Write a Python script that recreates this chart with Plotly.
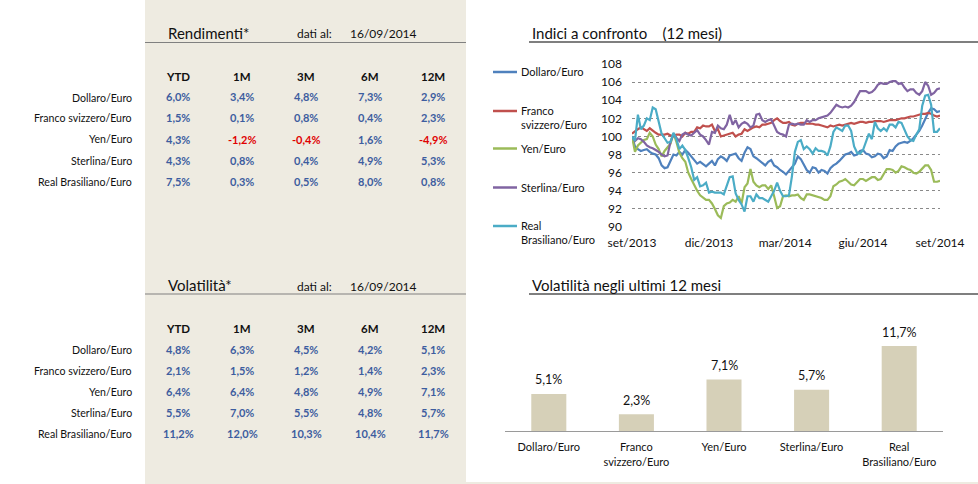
import pandas as pd
import plotly.graph_objects as go

W, H = 978, 484

# ---------------- data ----------------
pairs = ["Dollaro/Euro", "Franco svizzero/Euro", "Yen/Euro", "Sterlina/Euro", "Real Brasiliano/Euro"]
periods = ["YTD", "1M", "3M", "6M", "12M"]
data_date = "16/09/2014"

rend_dollaro = [6.0, 3.4, 4.8, 7.3, 2.9]
rend_franco = [1.5, 0.1, 0.8, 0.4, 2.3]
rend_yen = [4.3, -1.2, -0.4, 1.6, -4.9]
rend_sterlina = [4.3, 0.8, 0.4, 4.9, 5.3]
rend_real = [7.5, 0.3, 0.5, 8.0, 0.8]

vol_dollaro = [4.8, 6.3, 4.5, 4.2, 5.1]
vol_franco = [2.1, 1.5, 1.2, 1.4, 2.3]
vol_yen = [6.4, 6.4, 4.8, 4.9, 7.1]
vol_sterlina = [5.5, 7.0, 5.5, 4.8, 5.7]
vol_real = [11.2, 12.0, 10.3, 10.4, 11.7]

dates = pd.date_range("2013-09-16", "2014-09-15", periods=105)
idx_dollaro = [100.0, 98.9, 98.6, 98.4, 98.5, 98.6, 98.3, 98.1, 98.0, 97.6,
               96.8, 96.5, 96.6, 97.4, 98.0, 97.9, 98.3, 98.0, 98.5, 98.2,
               97.8, 97.4, 97.0, 97.2, 96.9, 96.7, 97.0, 97.3, 96.8, 97.5,
               97.8, 97.6, 97.3, 97.9, 98.0, 98.1, 97.6, 97.3, 98.2, 98.8,
               98.6, 97.8, 97.6, 97.3, 97.0, 96.8, 97.2, 97.4, 96.8, 96.6,
               96.3, 96.1, 95.8, 96.2, 96.6, 97.0, 97.8, 97.5, 96.9, 96.3,
               96.0, 96.6, 96.5, 96.0, 96.3, 96.2, 95.9, 96.5, 96.8, 97.0,
               97.3, 97.6, 98.0, 98.1, 98.3, 97.9, 98.0, 98.4, 98.5, 98.1,
               98.0, 97.7, 97.8, 98.1, 98.0, 97.6, 97.8, 98.5, 98.4, 98.9,
               99.2, 99.3, 99.4, 99.3, 99.5, 99.8, 100.2, 100.6, 101.2, 102.0,
               102.6, 103.1, 103.0, 102.7, 102.8]
idx_franco = [100.3, 100.6, 100.8, 101.0, 100.8, 100.6, 100.9, 100.6, 100.4, 100.2,
              100.2, 100.2, 100.3, 100.1, 100.1, 100.2, 100.2, 100.0, 100.4, 100.3,
              100.5, 100.5, 101.0, 100.9, 101.2, 101.1, 101.1, 101.3, 100.6, 100.8,
              100.0, 100.1, 100.2, 100.3, 100.4, 100.0, 100.2, 100.3, 100.8, 100.6,
              100.8, 101.0, 101.1, 101.0, 101.3, 101.3, 101.4, 101.5, 101.8, 102.0,
              101.7, 101.5, 101.5, 101.6, 101.3, 101.2, 101.4, 101.5, 101.5, 101.4,
              101.4, 101.4, 101.3, 101.3, 101.2, 101.1, 101.0, 101.2, 101.1, 101.2,
              101.3, 101.2, 101.3, 101.4, 101.5, 101.4, 101.5, 101.6, 101.6, 101.5,
              101.6, 101.6, 101.7, 101.7, 101.7, 101.6, 101.7, 101.8, 101.8, 101.8,
              101.9, 102.0, 102.0, 102.1, 102.2, 102.2, 102.3, 102.4, 102.5, 102.5,
              102.6, 102.5, 102.3, 102.2, 102.3]
idx_yen = [100.0, 98.3, 99.0, 99.3, 99.6, 99.7, 100.4, 100.0, 99.1, 98.6,
           97.8, 98.4, 98.8, 99.2, 100.3, 99.4, 98.2, 97.6, 97.2, 96.0,
           95.3, 94.6, 94.0, 93.5, 93.2, 93.0, 93.0, 92.6, 92.0, 91.3,
           91.0, 92.3, 92.6, 92.7, 93.0, 92.8, 93.4, 92.6, 94.4, 94.8,
           96.4, 95.0, 94.6, 94.4, 94.6, 94.6, 94.2, 94.6, 93.4, 92.1,
           92.3, 93.4, 93.5, 93.4, 93.5, 93.5, 93.6, 93.2, 93.0, 93.6,
           93.6, 93.5, 93.4, 93.3, 93.2, 93.0, 93.0, 93.4, 94.5, 94.7,
           95.0, 95.1, 95.3, 95.0, 94.7, 94.6, 95.0, 95.3, 95.3, 95.1,
           95.3, 95.5, 95.5, 95.2, 95.3, 95.8, 96.4, 96.4, 96.3, 96.0,
           96.2, 96.7, 96.6, 96.4, 96.3, 96.0, 95.9, 96.1, 96.4, 96.8,
           96.8, 96.3, 95.0, 95.0, 95.1]
idx_sterlina = [100.0, 99.5, 99.8, 99.7, 99.4, 99.0, 98.8, 98.7, 98.5, 98.3,
                98.0, 97.8, 97.9, 99.4, 100.2, 99.8, 99.5, 100.2, 100.4, 100.2,
                100.1, 100.4, 100.7, 100.2, 100.0, 99.6, 99.1, 100.5, 100.4, 101.2,
                100.9, 100.8, 101.3, 102.4, 101.3, 101.8, 101.0, 101.4, 101.6, 101.4,
                101.0, 101.2, 102.4, 102.5, 101.8, 101.6, 101.8, 101.9, 101.2, 100.5,
                100.3, 100.2, 100.0, 101.3, 101.4, 101.3, 101.4, 101.3, 101.3, 101.8,
                101.6, 101.8, 101.8, 102.0, 102.1, 102.2, 102.3, 102.6, 103.0, 103.5,
                103.3, 103.2, 103.3, 103.2, 103.4, 103.8, 104.4, 105.0, 105.0, 105.0,
                104.8, 104.9, 105.2, 105.7, 105.9, 105.8, 105.8, 106.0, 106.1, 106.1,
                105.8, 105.9, 105.4, 105.0, 105.2, 105.2, 104.8, 104.6, 105.0, 106.0,
                105.6, 104.6, 104.8, 105.2, 105.3]
idx_real = [100.0, 99.5, 102.4, 100.8, 101.2, 102.0, 101.8, 103.2, 103.0, 101.6,
            100.3, 99.8, 99.3, 99.4, 100.4, 99.7, 98.6, 99.0, 98.5, 97.6,
            96.6, 95.2, 95.5, 94.5, 94.6, 94.9, 93.8, 93.9, 93.8, 93.8,
            93.8, 93.6, 94.5, 95.5, 95.6, 93.7, 93.0, 92.5, 91.7, 93.4,
            93.4, 92.8, 93.6, 93.2, 93.2, 93.0, 92.8, 93.4, 94.0, 94.9,
            94.0, 93.4, 93.4, 93.5, 95.6, 98.3, 99.4, 99.6, 98.6, 98.9,
            98.6, 98.1, 98.7, 98.4, 98.4, 98.3, 97.9, 98.9, 100.5, 101.0,
            100.8, 100.6, 101.2, 101.2, 100.6, 98.9, 98.2, 98.1, 98.5, 99.5,
            100.3, 99.7, 101.6, 100.9, 100.6, 100.9, 100.6, 101.3, 101.3, 101.0,
            101.6, 101.5, 100.8, 100.0, 99.6, 99.5, 100.2, 100.8, 103.4, 104.5,
            104.6, 103.5, 100.5, 100.5, 100.9]

x_ticks = ["2013-09-16", "2013-12-16", "2014-03-16", "2014-06-16", "2014-09-15"]
x_tick_labels = ["set/2013", "dic/2013", "mar/2014", "giu/2014", "set/2014"]

bar_labels = ["Dollaro/Euro", "Franco<br>svizzero/Euro", "Yen/Euro", "Sterlina/Euro", "Real<br>Brasiliano/Euro"]
vol_12m = [5.1, 2.3, 7.1, 5.7, 11.7]

# ---------------- styles ----------------
FONT = "Lato, 'Open Sans', sans-serif"
BEIGE = "#EEEBE1"
VAL_BLUE = "#3D5D9F"
VAL_RED = "#E00000"
TXT = "#111111"
series_colors = ["#4F81BD", "#C0504D", "#9BBB59", "#8064A2", "#4BACC6"]
legend_names = ["Dollaro/Euro", "Franco<br>svizzero/Euro", "Yen/Euro", "Sterlina/Euro", "Real<br>Brasiliano/Euro"]


def X(px):
    return px / W


def Y(py):
    return 1 - py / H


def fmt(v):
    return f"{v:.1f}%".replace(".", ",")


fig = go.Figure()

# line chart
series = [idx_dollaro, idx_franco, idx_yen, idx_sterlina, idx_real]
for name, vals, col in zip(pairs, series, series_colors):
    fig.add_trace(go.Scatter(x=dates, y=vals, mode="lines", name=name,
                             line=dict(color=col, width=2.2), xaxis="x", yaxis="y",
                             showlegend=False))

# bar chart
fig.add_trace(go.Bar(x=bar_labels, y=vol_12m, marker=dict(color="#D6D0B8", line=dict(width=0)),
                     xaxis="x2", yaxis="y2", showlegend=False, width=0.4))

annotations = []
shapes = []

# beige panel
shapes.append(dict(type="rect", xref="paper", yref="paper", x0=X(145), x1=X(466), y0=0, y1=1,
                   fillcolor=BEIGE, line=dict(width=0), layer="below"))
shapes.append(dict(type="rect", xref="paper", yref="paper", x0=X(466), x1=1, y0=0, y1=Y(482),
                   fillcolor=BEIGE, line=dict(width=0), layer="below"))


def table(title, title_y, line_y, header_y, row_ys, rows):
    annotations.append(dict(text=title, x=X(166), y=Y(title_y), xref="paper", yref="paper",
                            xanchor="left", yanchor="middle", showarrow=False,
                            font=dict(family=FONT, size=15, color=TXT)))
    annotations.append(dict(text="dati al:", x=X(295), y=Y(title_y + 1), xref="paper", yref="paper",
                            xanchor="left", yanchor="middle", showarrow=False,
                            font=dict(family=FONT, size=12, color=TXT)))
    annotations.append(dict(text=data_date, x=X(348), y=Y(title_y + 1), xref="paper", yref="paper",
                            xanchor="left", yanchor="middle", showarrow=False,
                            font=dict(family=FONT, size=12, color=TXT)))
    shapes.append(dict(type="line", xref="paper", yref="paper", x0=X(145), x1=X(466),
                       y0=Y(line_y), y1=Y(line_y), line=dict(color="#808080", width=1.2)))
    col_x = [178, 242, 306, 370, 433]
    for p, cx in zip(periods, col_x):
        annotations.append(dict(text=f"<b>{p}</b>", x=X(cx), y=Y(header_y), xref="paper", yref="paper",
                                xanchor="center", yanchor="middle", showarrow=False,
                                font=dict(family=FONT, size=11.5, color=TXT)))
    for name, ry, vals in zip(pairs, row_ys, rows):
        annotations.append(dict(text=name, x=X(134), y=Y(ry), xref="paper", yref="paper",
                                xanchor="right", yanchor="middle", showarrow=False,
                                font=dict(family=FONT, size=10.6, color=TXT)))
        for v, cx in zip(vals, col_x):
            annotations.append(dict(text=f"<b>{fmt(v)}</b>", x=X(cx), y=Y(ry - 0.5), xref="paper", yref="paper",
                                    xanchor="center", yanchor="middle", showarrow=False,
                                    font=dict(family=FONT, size=11, color=VAL_RED if v < 0 else VAL_BLUE)))


table("Rendimenti*", 33, 42.5, 76, [97.5, 118.5, 139.5, 160.5, 181.5],
      [rend_dollaro, rend_franco, rend_yen, rend_sterlina, rend_real])
table("Volatilità*", 285, 294, 328, [349.5, 370.5, 391.5, 412.5, 433.5],
      [vol_dollaro, vol_franco, vol_yen, vol_sterlina, vol_real])

# right-side titles
for t, ty, ly in [("Indici a confronto\u00a0\u00a0\u00a0\u00a0(12 mesi)", 33, 42),
                  ("Volatilità negli ultimi 12 mesi", 285, 294)]:
    annotations.append(dict(text=t, x=X(530), y=Y(ty), xref="paper", yref="paper",
                            xanchor="left", yanchor="middle", showarrow=False,
                            font=dict(family=FONT, size=15, color=TXT)))
    shapes.append(dict(type="line", xref="paper", yref="paper", x0=X(529), x1=1,
                       y0=Y(ly), y1=Y(ly), line=dict(color="#000000", width=1.2)))

# manual legend for line chart
legend_y = [72, 117.5, 148.5, 187.5, 232.5]
for nm, col, ly in zip(legend_names, series_colors, legend_y):
    line_y = ly if "<br>" not in nm else ly - 6.5
    shapes.append(dict(type="line", xref="paper", yref="paper", x0=X(493), x1=X(517),
                       y0=Y(line_y), y1=Y(line_y), line=dict(color=col, width=2.5)))
    annotations.append(dict(text=nm, x=X(519), y=Y(ly), xref="paper", yref="paper",
                            xanchor="left", yanchor="middle", align="left", showarrow=False,
                            font=dict(family=FONT, size=11, color=TXT)))

# bar value labels
for lab, v in zip(bar_labels, vol_12m):
    annotations.append(dict(text=fmt(v), x=lab, y=v, xref="x2", yref="y2", yshift=14,
                            xanchor="center", yanchor="middle", showarrow=False,
                            font=dict(family=FONT, size=12.5, color=TXT)))

fig.update_layout(
    template="none",
    width=W, height=H, margin=dict(l=0, r=0, t=0, b=0, pad=0), autosize=False,
    paper_bgcolor="white", plot_bgcolor="rgba(0,0,0,0)",
    font=dict(family=FONT, size=11, color=TXT),
    annotations=annotations, shapes=shapes,
    xaxis=dict(domain=[X(632), X(940)], type="date", range=["2013-09-16", "2014-09-15"],
               tickvals=x_ticks, ticktext=x_tick_labels, showgrid=False, zeroline=False,
               showline=False, ticks="", ticklabelstandoff=6, automargin=False,
               tickfont=dict(family=FONT, size=12, color=TXT), anchor="y"),
    yaxis=dict(domain=[Y(227.5), Y(63.5)], range=[89.95, 108.05], tick0=90, dtick=2,
               showgrid=True, gridcolor="#8A8A8A", griddash="dot", gridwidth=1,
               zeroline=False, showline=False, ticks="", ticklabelstandoff=9, automargin=False,
               tickfont=dict(family=FONT, size=12, color=TXT), anchor="x"),
    xaxis2=dict(domain=[X(505), X(943)], showline=True, linecolor="#9A9A9A", linewidth=1.2,
                showgrid=False, zeroline=False, ticks="", ticklabelstandoff=6, automargin=False,
                tickfont=dict(family=FONT, size=11, color=TXT), anchor="y2"),
    yaxis2=dict(domain=[Y(431), Y(310)], range=[0, 16.67], visible=False, automargin=False,
                anchor="x2"),
    bargap=0.6,
)

fig.write_html("out.html")
